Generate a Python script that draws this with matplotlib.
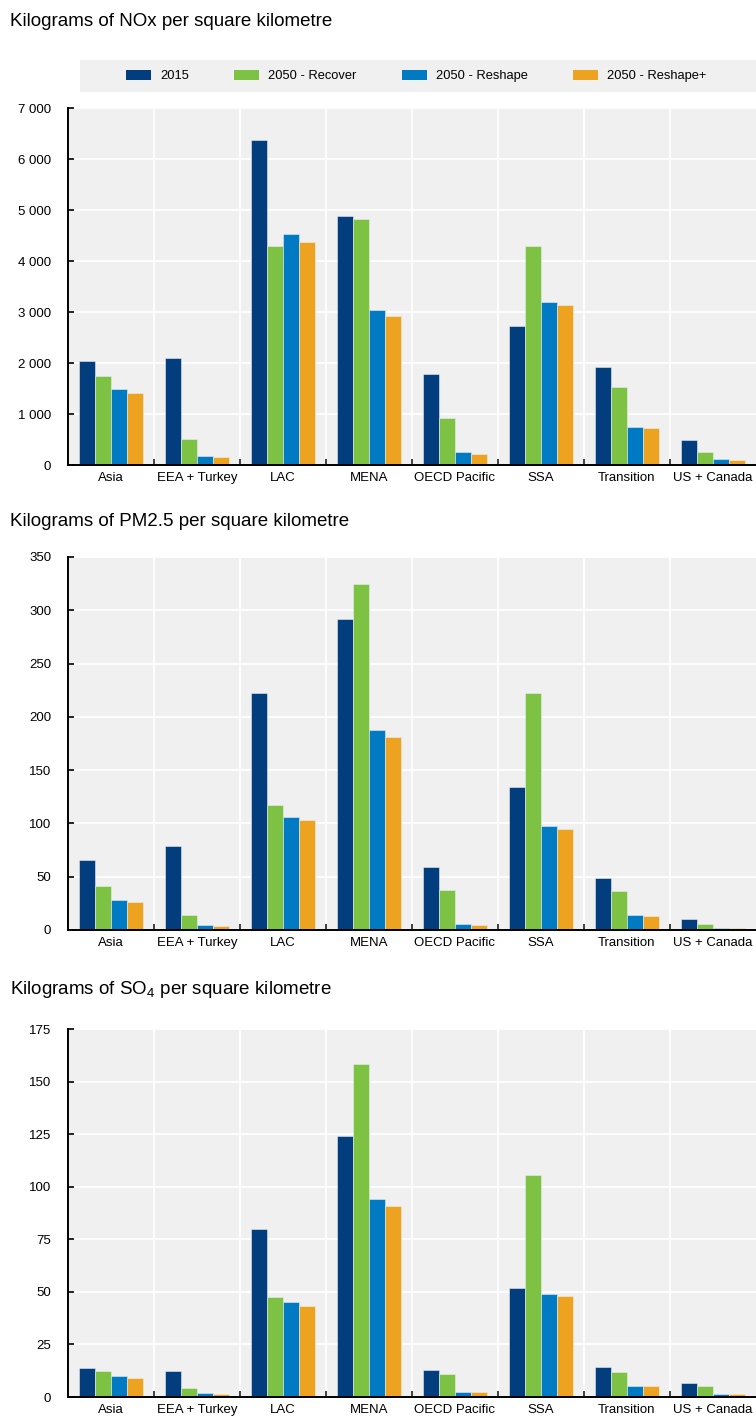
import matplotlib
matplotlib.use("Agg")
import matplotlib.pyplot as plt
from matplotlib.patches import Patch
from matplotlib.ticker import FuncFormatter, MultipleLocator, FixedLocator
import numpy as np

plt.rcParams["font.family"] = ["Liberation Sans", "DejaVu Sans"]
plt.rcParams["mathtext.default"] = "regular"

regions = ["Asia", "EEA + Turkey", "LAC", "MENA", "OECD Pacific", "SSA", "Transition", "US + Canada"]
scenarios = ["2015", "2050 - Recover", "2050 - Reshape", "2050 - Reshape+"]
colors = ["#023e7e", "#7dc242", "#007bc3", "#eea320"]

# NOx, kg per km2
nox_2015 = [2040, 2100, 6380, 4880, 1780, 2720, 1920, 500]
nox_recover = [1750, 510, 4300, 4820, 920, 4300, 1520, 260]
nox_reshape = [1490, 170, 4530, 3040, 250, 3200, 750, 110]
nox_reshape_plus = [1410, 150, 4380, 2920, 220, 3140, 730, 90]

# PM2.5, kg per km2
pm_2015 = [66, 79, 222, 292, 59, 134, 49, 10]
pm_recover = [41, 14, 117, 325, 38, 222, 37, 6]
pm_reshape = [28, 4.5, 106, 188, 6, 98, 14, 2]
pm_reshape_plus = [26, 3.5, 103, 181, 5, 95, 13, 1.8]

# SO4, kg per km2
so4_2015 = [14, 12.5, 80, 124, 13, 52, 14.5, 6.5]
so4_recover = [12.5, 4.5, 47.5, 158.5, 11, 105.5, 12, 5]
so4_reshape = [10, 2, 45, 94, 2.5, 49, 5, 1.5]
so4_reshape_plus = [9, 1.5, 43.5, 91, 2.5, 48, 5, 1.5]

W, H = 756, 1418
fig = plt.figure(figsize=(W / 100, H / 100), dpi=100)
bg = "#f0f0f0"


def thousands(v, _pos):
    return f"{int(round(v)):,}".replace(",", " ")


def panel(top, bottom, series, ymax, ystep, title, title_y, fmt=None):
    ax = fig.add_axes([68 / W, 1 - bottom / H, (W - 68) / W, (bottom - top) / H])
    ax.set_facecolor(bg)
    x = np.arange(len(regions))
    bw = 0.186
    for i, (vals, c) in enumerate(zip(series, colors)):
        ax.bar(x + (i - 1.5) * bw, vals, width=bw, color=c,
               edgecolor="#e8eef2", linewidth=0.4, zorder=3)
    ax.set_xlim(-0.5, len(regions) - 0.5)
    ax.set_ylim(0, ymax)
    ax.yaxis.set_major_locator(MultipleLocator(ystep))
    if fmt is not None:
        ax.yaxis.set_major_formatter(FuncFormatter(fmt))
    ax.set_xticks(x)
    ax.set_xticklabels(regions)
    ax.xaxis.set_minor_locator(FixedLocator(np.arange(0.5, len(regions) - 0.5, 1.0)))
    ax.tick_params(axis="x", which="major", length=0, pad=5, labelsize=9.5, colors="#000000")
    ax.tick_params(axis="x", which="minor", direction="in", length=4, width=1.2, color="#222222")
    ax.tick_params(axis="y", which="major", direction="in", length=4, width=1.2,
                   pad=12, labelsize=9.5, colors="#000000")
    ax.grid(axis="y", which="major", color="white", linewidth=1.3, zorder=0)
    ax.grid(axis="x", which="minor", color="white", linewidth=1.3, zorder=0)
    ax.set_axisbelow(True)
    for s in ("top", "right"):
        ax.spines[s].set_visible(False)
    for s in ("left", "bottom"):
        ax.spines[s].set_linewidth(1.4)
        ax.spines[s].set_color("#000000")
        ax.spines[s].set_zorder(4)
    fig.text(10 / W, 1 - title_y / H, title, fontsize=13.5, va="center", ha="left")
    return ax


panel(108, 465, [nox_2015, nox_recover, nox_reshape, nox_reshape_plus], 7000, 1000,
      "Kilograms of NOx per square kilometre", 21, thousands)
panel(557, 930, [pm_2015, pm_recover, pm_reshape, pm_reshape_plus], 350, 50,
      "Kilograms of PM2.5 per square kilometre", 522)
panel(1029, 1397, [so4_2015, so4_recover, so4_reshape, so4_reshape_plus], 175, 25,
      "Kilograms of SO$_4$ per square kilometre", 989)

# Legend band
lax = fig.add_axes([80 / W, 1 - 92 / H, (W - 80) / W, 32 / H])
lax.set_facecolor(bg)
lax.set_xticks([])
lax.set_yticks([])
for s in lax.spines.values():
    s.set_visible(False)
handles = [Patch(facecolor=c, edgecolor="none") for c in colors]
lax.legend(handles, scenarios, ncol=4, loc="center left", bbox_to_anchor=(46 / 676, 0.5),
           frameon=False, fontsize=9.3, handlelength=1.94, handleheight=0.9,
           handletextpad=0.7, columnspacing=3.5, borderaxespad=0, borderpad=0)

fig.savefig("out.png", dpi=100, facecolor="white")
